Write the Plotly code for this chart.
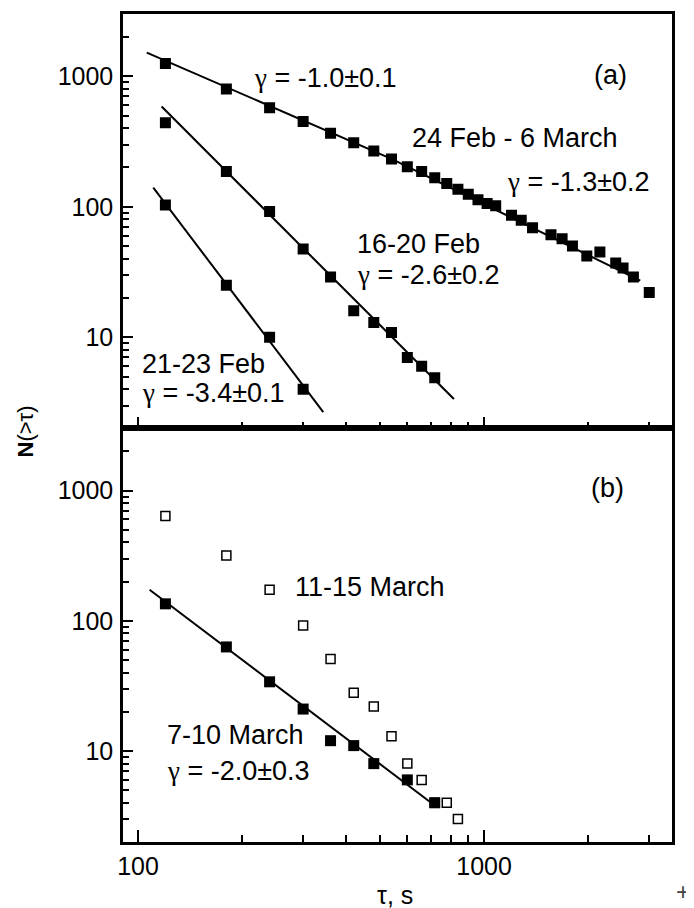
import math
import plotly.graph_objects as go

# ---------------- data ----------------
# Panel (a)
tau_feb24_mar6 = [120, 180, 240, 300, 360, 420, 480, 540, 600, 660, 720, 780, 840, 900,
                  960, 1020, 1080, 1200, 1280, 1380, 1560, 1680, 1800, 1980, 2160, 2400,
                  2520, 2700, 3000]
n_feb24_mar6 = [1250, 800, 575, 450, 366, 310, 268, 232, 203, 186, 167, 151, 136, 125,
                113, 106, 102, 86, 79, 69, 61, 57, 50, 42, 45, 37, 34, 29, 22]

tau_feb16_20 = [120, 180, 240, 300, 360, 420, 480, 540, 600, 660, 720]
n_feb16_20 = [441, 186, 92, 47.5, 29, 16, 13, 10.9, 7, 6, 4.9]

tau_feb21_23 = [120, 180, 240, 300]
n_feb21_23 = [103, 25, 10, 4]

# Panel (b)
tau_mar11_15 = [120, 180, 240, 300, 360, 420, 480, 540, 600, 660, 720, 780, 840]
n_mar11_15 = [637, 317, 173, 92, 51, 28, 22, 13, 8, 6, 4, 4, 3]

tau_mar7_10 = [120, 180, 240, 300, 360, 420, 480, 600, 720]
n_mar7_10 = [135, 63, 34, 21, 12, 11, 8, 6, 4]

# power-law fit lines: start tau, end tau, N at start, slope (as drawn)
fit_names = ["a1", "a1b", "a2", "a3", "b"]
fit_panel = ["a", "a", "a", "a", "b"]
fit_tau_start = [106, 540, 117, 110.7, 108]
fit_tau_end = [540, 2826, 818, 343, 706]
fit_n_start = [1519, 232.7, 586, 140, 173]
fit_slope = [-1.152, -1.298, -2.654, -3.50, -2.01]

x_major = [100, 1000]
x_minor = [200, 300, 400, 500, 600, 700, 800, 900, 2000, 3000]
y_major = [10, 100, 1000]
y_minor = [m * d for d in (1, 10, 100) for m in range(2, 10)] + [2000, 3000]

# ---------------- figure ----------------
OFF = 8  # page body margin: figure starts 8 px from window corner
W, H = 694 - OFF, 908 - OFF
X0, X1, Y0, Y1 = 123 - OFF, 672 - OFF, 11 - OFF, 842 - OFF   # plot frame in figure px
L, R, T, B = X0, W - X1, Y0, H - Y1
PW, PH = X1 - X0, Y1 - Y0
split = (842 - 427) / PH

FONT = "Liberation Sans, Arial, sans-serif"

fig = go.Figure()

sq = dict(symbol="square", size=11, color="black")
opn = dict(symbol="square-open", size=9, color="black", line=dict(width=1.5, color="black"))

# fit lines
for i in range(len(fit_names)):
    t0, t1 = fit_tau_start[i], fit_tau_end[i]
    n0 = fit_n_start[i]
    n1 = n0 * (t1 / t0) ** fit_slope[i]
    xa, ya = ("x2", "y2") if fit_panel[i] == "a" else ("x", "y")
    fig.add_trace(go.Scatter(x=[t0, t1], y=[n0, n1], mode="lines",
                             line=dict(color="black", width=2),
                             xaxis=xa, yaxis=ya, showlegend=False, hoverinfo="skip"))

fig.add_trace(go.Scatter(x=tau_mar11_15, y=n_mar11_15, mode="markers", marker=opn,
                         xaxis="x", yaxis="y", showlegend=False))
fig.add_trace(go.Scatter(x=tau_feb24_mar6, y=n_feb24_mar6, mode="markers", marker=sq,
                         xaxis="x2", yaxis="y2", showlegend=False))
fig.add_trace(go.Scatter(x=tau_feb16_20, y=n_feb16_20, mode="markers", marker=sq,
                         xaxis="x2", yaxis="y2", showlegend=False))
fig.add_trace(go.Scatter(x=tau_feb21_23, y=n_feb21_23, mode="markers", marker=sq,
                         xaxis="x2", yaxis="y2", showlegend=False))
fig.add_trace(go.Scatter(x=tau_mar7_10, y=n_mar7_10, mode="markers", marker=sq,
                         xaxis="x", yaxis="y", showlegend=False))

xrange = [math.log10(90.5), math.log10(3490)]
yrange = [math.log10(2), math.log10(3000)]

common_x = dict(type="log", range=xrange, tickmode="array", tickvals=x_major,
                ticktext=[str(v) for v in x_major], ticks="inside", ticklen=12, tickwidth=2,
                tickcolor="black", showline=True, linewidth=2.5, linecolor="black", mirror=True,
                showgrid=False, zeroline=False,
                minor=dict(tickmode="array", tickvals=x_minor, ticks="inside", ticklen=7,
                           tickwidth=2, tickcolor="black", showgrid=False),
                tickfont=dict(family=FONT, size=25, color="black"))
common_y = dict(type="log", range=yrange, tickmode="array", tickvals=y_major,
                ticktext=[str(v) for v in y_major], ticks="inside", ticklen=10, tickwidth=2,
                tickcolor="black", showline=True, linewidth=2.5, linecolor="black", mirror=True,
                showgrid=False, zeroline=False,
                minor=dict(tickmode="array", tickvals=y_minor, ticks="inside", ticklen=6,
                           tickwidth=2, tickcolor="black", showgrid=False),
                tickfont=dict(family=FONT, size=25, color="black"), ticklabelstandoff=2)

fig.update_layout(
    width=W, height=H, margin=dict(l=L, r=R, t=T, b=B, pad=0),
    paper_bgcolor="white", plot_bgcolor="white", showlegend=False,
    xaxis=dict(common_x, anchor="y", domain=[0, 1], ticklabelstandoff=0),
    xaxis2=dict(common_x, anchor="y2", domain=[0, 1], matches="x", showticklabels=False),
    yaxis=dict(common_y, anchor="x", domain=[0, split]),
    yaxis2=dict(common_y, anchor="x2", domain=[split, 1]),
)


def px(xp, yp):
    """reference-window pixel -> paper fraction"""
    return (xp - OFF - X0) / PW, (Y1 - (yp - OFF)) / PH


G = '<span style="font-family:Liberation Serif">γ</span>'
labels = [
    (G + " = -1.0±0.1", 252, 75, "left"),
    ("(a)", 610, 72, "center"),
    ("24 Feb - 6 March", 410, 135, "left"),
    (G + " = -1.3±0.2", 505, 180, "left"),
    ("16-20 Feb", 355, 242, "left"),
    (G + " = -2.6±0.2", 355, 273, "left"),
    ("21-23 Feb", 140, 362, "left"),
    (G + " = -3.4±0.1", 140, 391, "left"),
    ("(b)", 607, 487, "center"),
    ("11-15 March", 293, 586, "left"),
    ("7-10 March", 165, 735, "left"),
    (G + " = -2.0±0.3", 165, 771, "left"),
]
for text, xp, yp, anchor in labels:
    ax, ay = px(xp, yp)
    fig.add_annotation(text=text, x=ax, y=ay, xref="paper", yref="paper",
                       xanchor=anchor, yanchor="middle", showarrow=False,
                       font=dict(family=FONT, size=27, color="black"))

ax, ay = px(395, 895)
fig.add_annotation(text="τ, s", x=ax, y=ay, xref="paper", yref="paper",
                   xanchor="center", yanchor="middle", showarrow=False,
                   font=dict(family=FONT, size=25, color="black"))
ax, ay = px(25, 430)
fig.add_annotation(text="<b>N</b>(>τ)", x=ax, y=ay, xref="paper", yref="paper", textangle=-90,
                   xanchor="center", yanchor="middle", showarrow=False,
                   font=dict(family=FONT, size=22, color="black"))
ax, ay = px(683, 892)
fig.add_annotation(text="+", x=ax, y=ay, xref="paper", yref="paper",
                   xanchor="center", yanchor="middle", showarrow=False,
                   font=dict(family=FONT, size=24, color="#444"))

fig.write_html("out.html")
